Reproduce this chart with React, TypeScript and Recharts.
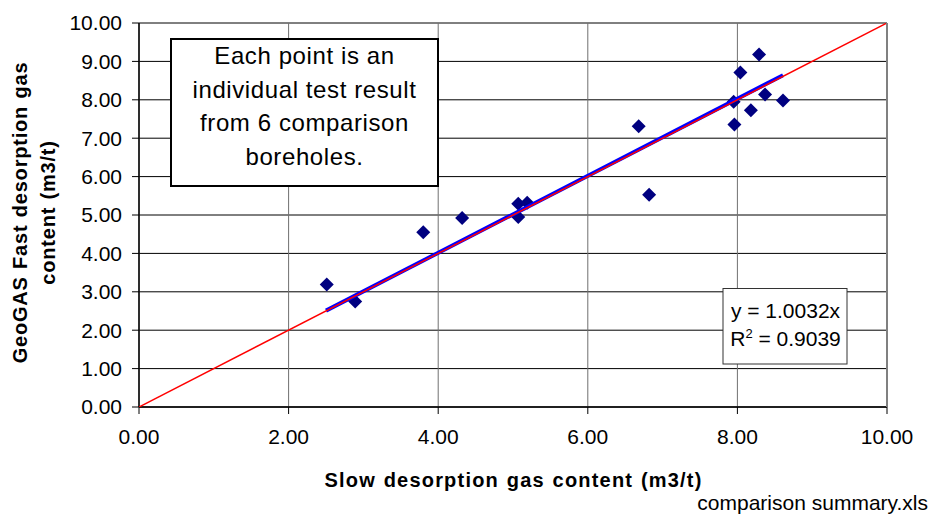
import React from 'react';
import { ScatterChart, Scatter, XAxis, YAxis, CartesianGrid } from 'recharts';

const slowGas = [2.51, 2.89, 3.8, 4.32, 5.07, 5.07, 5.19, 6.68, 6.82, 7.95, 7.96, 8.04, 8.18, 8.29, 8.37, 8.61];
const fastGas = [3.19, 2.75, 4.55, 4.92, 5.29, 4.95, 5.32, 7.31, 5.53, 7.95, 7.36, 8.71, 7.73, 9.18, 8.14, 7.98];
const xTicks = [0, 2, 4, 6, 8, 10];
const yTicks = [0, 1, 2, 3, 4, 5, 6, 7, 8, 9, 10];
const oneToOneX = [0, 10];
const oneToOneY = [0, 10];
const trendX = [2.5, 8.61];
const trendY = [2.51, 8.64];
const noteLines = ['Each point is an', 'individual test result', 'from 6 comparison', 'boreholes.'];

const points = slowGas.map((x, i) => ({ x, y: fastGas[i] }));
const oneToOne = oneToOneX.map((x, i) => ({ x, y: oneToOneY[i] }));
const trend = trendX.map((x, i) => ({ x, y: trendY[i] }));

const FONT = '"Liberation Sans", Arial, sans-serif';

const Diamond = (props: any) => {
  const { cx, cy } = props;
  if (cx == null || cy == null) return <g />;
  return (
    <polygon
      points={`${cx},${cy - 7} ${cx + 7},${cy} ${cx},${cy + 7} ${cx - 7},${cy}`}
      fill="#000080"
    />
  );
};

const NoShape = () => <g />;

export default function App() {
  return (
    <div style={{ position: 'absolute', left: 0, top: 0, width: 931, height: 515, background: '#fff' }}>
      <ScatterChart
        width={931}
        height={515}
        margin={{ top: 23, right: 44, bottom: 0, left: 0 }}
        style={{ fontFamily: FONT }}
      >
        <CartesianGrid vertical={false} stroke="#000" strokeWidth={1} />
        <CartesianGrid horizontal={false} stroke="#707070" strokeWidth={1} />
        <XAxis
          type="number"
          dataKey="x"
          domain={[0, 10]}
          ticks={xTicks}
          tickFormatter={(v: number) => v.toFixed(2)}
          height={108}
          tickSize={7}
          tickMargin={15}
          stroke="#000"
          tick={{ fontSize: 21, fill: '#000', fontFamily: FONT }}
          tickLine={{ stroke: '#000' }}
          axisLine={{ stroke: '#000', strokeWidth: 1.5 }}
          allowDataOverflow
        />
        <YAxis
          type="number"
          dataKey="y"
          domain={[0, 10]}
          ticks={yTicks}
          tickFormatter={(v: number) => v.toFixed(2)}
          width={139}
          tickSize={7}
          tickMargin={10}
          stroke="#000"
          tick={{ fontSize: 21, fill: '#000', fontFamily: FONT }}
          tickLine={{ stroke: '#000' }}
          axisLine={{ stroke: '#000', strokeWidth: 1.5 }}
          allowDataOverflow
        />
        <Scatter data={points} shape={<Diamond />} isAnimationActive={false} />
        <Scatter
          data={trend}
          line={{ stroke: '#0000FF', strokeWidth: 4 }}
          shape={<NoShape />}
          isAnimationActive={false}
        />
        <Scatter
          data={oneToOne}
          line={{ stroke: '#FF0000', strokeWidth: 1.5 }}
          shape={<NoShape />}
          isAnimationActive={false}
        />
      </ScatterChart>
      <svg
        width={931}
        height={515}
        style={{ position: 'absolute', left: 0, top: 0, pointerEvents: 'none', fontFamily: FONT }}
      >
        <line x1={887} y1={23} x2={887} y2={407} stroke="#808080" strokeWidth={2} />
        <rect x={171} y={39} width={267} height={147} fill="#fff" stroke="#000" strokeWidth={2} />
        {noteLines.map((t, i) => (
          <text
            key={t}
            x={304.5}
            y={64 + i * 33.7}
            textAnchor="middle"
            fontSize={24}
            letterSpacing={0.6}
            fill="#000"
          >
            {t}
          </text>
        ))}
        <rect x={723} y={288.5} width={124} height={75.5} fill="#fff" stroke="#333" strokeWidth={1} />
        <text x={785.5} y={317.5} textAnchor="middle" fontSize={21} fill="#000">
          y = 1.0032x
        </text>
        <text x={785.5} y={346} textAnchor="middle" fontSize={21} fill="#000">
          R<tspan dy={-8} fontSize={13}>2</tspan>
          <tspan dy={8}> = 0.9039</tspan>
        </text>
        <text
          x={513.5}
          y={486.5}
          textAnchor="middle"
          fontSize={20}
          fontWeight="bold"
          letterSpacing={1.2}
          wordSpacing={1}
          fill="#000"
        >
          Slow desorption gas content (m3/t)
        </text>
        <text
          transform="translate(27,212.5) rotate(-90)"
          textAnchor="middle"
          fontSize={20}
          fontWeight="bold"
          letterSpacing={0.8}
          wordSpacing={1}
          fill="#000"
        >
          GeoGAS Fast desorption gas
        </text>
        <text
          transform="translate(55,212.5) rotate(-90)"
          textAnchor="middle"
          fontSize={20}
          fontWeight="bold"
          letterSpacing={0.8}
          wordSpacing={1}
          fill="#000"
        >
          content (m3/t)
        </text>
        <text x={928} y={510} textAnchor="end" fontSize={21} fill="#000">
          comparison summary.xls
        </text>
      </svg>
    </div>
  );
}
